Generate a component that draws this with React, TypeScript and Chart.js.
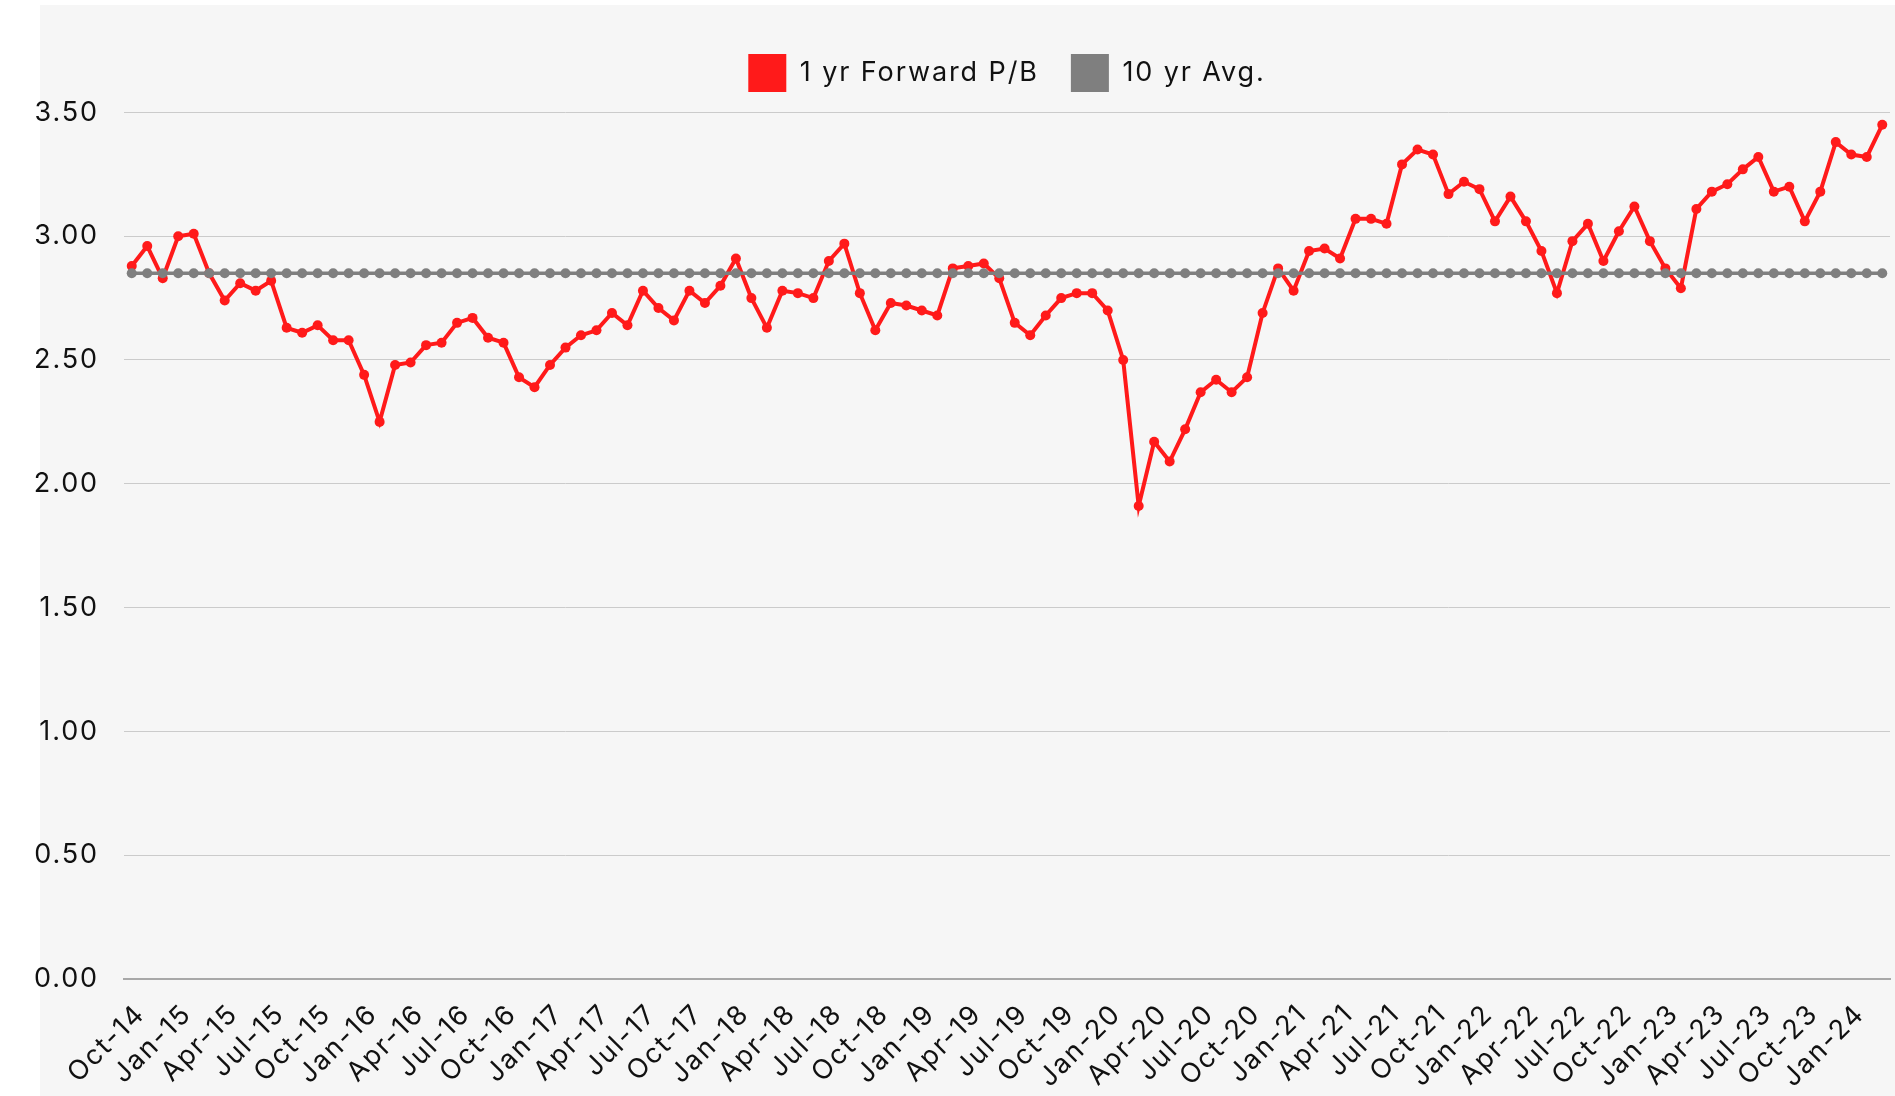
import React, { useEffect, useRef } from "react";
import { Chart, registerables } from "chart.js";

Chart.register(...registerables);

const categories: string[] = [
  "Oct-14", "Nov-14", "Dec-14",
  "Jan-15", "Feb-15", "Mar-15", "Apr-15", "May-15", "Jun-15", "Jul-15", "Aug-15", "Sep-15", "Oct-15", "Nov-15", "Dec-15",
  "Jan-16", "Feb-16", "Mar-16", "Apr-16", "May-16", "Jun-16", "Jul-16", "Aug-16", "Sep-16", "Oct-16", "Nov-16", "Dec-16",
  "Jan-17", "Feb-17", "Mar-17", "Apr-17", "May-17", "Jun-17", "Jul-17", "Aug-17", "Sep-17", "Oct-17", "Nov-17", "Dec-17",
  "Jan-18", "Feb-18", "Mar-18", "Apr-18", "May-18", "Jun-18", "Jul-18", "Aug-18", "Sep-18", "Oct-18", "Nov-18", "Dec-18",
  "Jan-19", "Feb-19", "Mar-19", "Apr-19", "May-19", "Jun-19", "Jul-19", "Aug-19", "Sep-19", "Oct-19", "Nov-19", "Dec-19",
  "Jan-20", "Feb-20", "Mar-20", "Apr-20", "May-20", "Jun-20", "Jul-20", "Aug-20", "Sep-20", "Oct-20", "Nov-20", "Dec-20",
  "Jan-21", "Feb-21", "Mar-21", "Apr-21", "May-21", "Jun-21", "Jul-21", "Aug-21", "Sep-21", "Oct-21", "Nov-21", "Dec-21",
  "Jan-22", "Feb-22", "Mar-22", "Apr-22", "May-22", "Jun-22", "Jul-22", "Aug-22", "Sep-22", "Oct-22", "Nov-22", "Dec-22",
  "Jan-23", "Feb-23", "Mar-23", "Apr-23", "May-23", "Jun-23", "Jul-23", "Aug-23", "Sep-23", "Oct-23", "Nov-23", "Dec-23",
  "Jan-24", "Feb-24", "Mar-24",
];

const forwardPB: number[] = [
  2.88, 2.96, 2.83, 3.00, 3.01, 2.85, 2.74, 2.81, 2.78, 2.82,
  2.63, 2.61, 2.64, 2.58, 2.58, 2.44, 2.25, 2.48, 2.49, 2.56,
  2.57, 2.65, 2.67, 2.59, 2.57, 2.43, 2.39, 2.48, 2.55, 2.60,
  2.62, 2.69, 2.64, 2.78, 2.71, 2.66, 2.78, 2.73, 2.80,
  2.91, 2.75, 2.63, 2.78, 2.77, 2.75, 2.90, 2.97, 2.77, 2.62,
  2.73, 2.72, 2.70, 2.68, 2.87, 2.88, 2.89, 2.83, 2.65,
  2.60, 2.68, 2.75, 2.77, 2.77, 2.70, 2.50, 1.91, 2.17, 2.09,
  2.22, 2.37, 2.42, 2.37, 2.43, 2.69, 2.87, 2.78, 2.94,
  2.95, 2.91, 3.07, 3.07, 3.05, 3.29, 3.35, 3.33, 3.17, 3.22,
  3.19, 3.06, 3.16, 3.06, 2.94, 2.77, 2.98, 3.05, 2.90,
  3.02, 3.12, 2.98, 2.87, 2.79, 3.11, 3.18, 3.21, 3.27, 3.32,
  3.18, 3.20, 3.06, 3.18, 3.38, 3.33, 3.32, 3.45,
];

const tenYearAvg = 2.85;

const yTicks: number[] = [0, 0.5, 1, 1.5, 2, 2.5, 3, 3.5];

const seriesNames = ["1 yr Forward P/B", "10 yr Avg."];

const RED = "#ff1a1a";
const GRAY = "#7f7f7f";
const FONT = "Inter, 'Liberation Sans', sans-serif";
const LETTER_SPACING = "1.9px";

const centerLegend = {
  id: "centerLegend",
  afterLayout(chart: any) {
    const lg = chart.legend;
    if (!lg) return;
    lg.left = chart.chartArea.left;
    lg.right = chart.chartArea.right;
    lg.width = lg.right - lg.left;
  },
};

const spacedText = {
  id: "spacedText",
  afterInit(chart: any) {
    chart.ctx.letterSpacing = LETTER_SPACING;
  },
  beforeUpdate(chart: any) {
    chart.ctx.letterSpacing = LETTER_SPACING;
  },
  beforeDraw(chart: any) {
    chart.ctx.letterSpacing = LETTER_SPACING;
  },
};

export default function App() {
  const canvasRef = useRef<HTMLCanvasElement | null>(null);

  useEffect(() => {
    if (!canvasRef.current) return;
    const avgData = categories.map(() => tenYearAvg);
    const chart = new Chart(canvasRef.current, {
      type: "line",
      data: {
        labels: categories,
        datasets: [
          {
            label: seriesNames[0],
            data: forwardPB,
            borderColor: RED,
            backgroundColor: RED,
            borderWidth: 4,
            pointRadius: 5,
            pointBackgroundColor: RED,
            pointBorderWidth: 0,
            pointHoverRadius: 5,
            tension: 0,
            order: 0,
          },
          {
            label: seriesNames[1],
            data: avgData,
            borderColor: GRAY,
            backgroundColor: GRAY,
            borderWidth: 3.5,
            pointRadius: 5,
            pointBackgroundColor: GRAY,
            pointBorderWidth: 0,
            pointHoverRadius: 5,
            tension: 0,
            order: -1,
          },
        ],
      },
      options: {
        responsive: false,
        animation: false,
        maintainAspectRatio: false,
        layout: { padding: { top: 22, left: 0, right: 0, bottom: 0 } },
        plugins: {
          tooltip: { enabled: false },
          legend: {
            display: true,
            position: "top",
            labels: {
              boxWidth: 38,
              boxHeight: 38,
              padding: 32,
              color: "#111111",
              font: { family: FONT, size: 27 },
              sort: (a: any, b: any) => a.datasetIndex - b.datasetIndex,
              generateLabels: (chart: any) =>
                (Chart.defaults.plugins.legend.labels as any)
                  .generateLabels(chart)
                  .map((l: any) => ({ ...l, lineWidth: 0, strokeStyle: "rgba(0,0,0,0)" })),
            },
          },
        },
        scales: {
          x: {
            type: "category",
            offset: true,
            grid: { display: false, drawTicks: false },
            border: { display: true, color: "#a8a8a8", width: 2 },
            ticks: {
              autoSkip: false,
              maxRotation: 45,
              minRotation: 45,
              padding: 19,
              labelOffset: 9,
              color: "#111111",
              font: { family: FONT, size: 27 },
              callback: (_v: any, i: number) => (i % 3 === 0 ? categories[i] : ""),
            },
            afterFit: (scale: any) => {
              scale.height = 117;
              scale.paddingLeft = 0;
              scale.paddingRight = 0;
            },
          },
          y: {
            type: "linear",
            min: 0,
            max: 3.542,
            grid: { color: "#cbcbcb", lineWidth: 1, drawTicks: false },
            border: { display: false },
            ticks: {
              stepSize: 0.5,
              includeBounds: false,
              padding: 25,
              color: "#111111",
              font: { family: FONT, size: 27 },
              callback: (v: any) => Number(v).toFixed(2),
            },
            afterBuildTicks: (scale: any) => {
              scale.ticks = yTicks.map((v) => ({ value: v }));
            },
            afterFit: (scale: any) => {
              scale.width = 124;
            },
          },
        },
      },
      plugins: [spacedText, centerLegend],
    } as any);
    return () => chart.destroy();
  }, []);

  return (
    <div style={{ position: "fixed", left: 0, top: 0, width: 1895, height: 1096, background: "#ffffff", overflow: "hidden" }}>
      <div style={{ position: "absolute", left: 40, top: 5, right: 0, bottom: 0, background: "#f6f6f6" }} />
      <canvas ref={canvasRef} width={1895} height={1096} style={{ position: "absolute", left: 0, top: 0, width: 1895, height: 1096 }} />
    </div>
  );
}
